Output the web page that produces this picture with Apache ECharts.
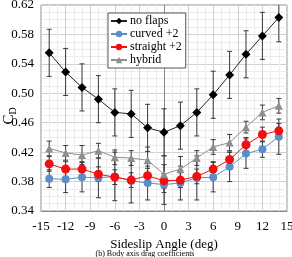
<!DOCTYPE html>
<html><head><meta charset="utf-8">
<script src="https://cdn.jsdelivr.net/npm/echarts@6/dist/echarts.min.js"></script>
<style>html,body{margin:0;padding:0;background:#fff}#c{width:292px;height:257px}</style>
</head><body><div id="c"></div>
<script>
var angles = [-14,-12,-10,-8,-6,-4,-2,0,2,4,6,8,10,12,14];
var noFlaps = [0.555,0.529,0.508,0.492,0.474,0.472,0.453,0.447,0.456,0.474,0.498,0.525,0.553,0.578,0.603];
var noFlapsErr = [0.032,0.032,0.032,0.032,0.032,0.032,0.032,0.032,0.032,0.032,0.032,0.032,0.032,0.032,0.033];
var curved = [0.384,0.383,0.386,0.385,0.387,0.381,0.378,0.376,0.378,0.385,0.386,0.400,0.418,0.424,0.441];
var curvedErr = [0.012,0.018,0.020,0.027,0.033,0.030,0.023,0.027,0.023,0.030,0.020,0.020,0.020,0.011,0.024];
var straight = [0.404,0.397,0.397,0.390,0.386,0.382,0.388,0.381,0.382,0.387,0.397,0.410,0.430,0.444,0.449];
var straightErr = [0.010,0.010,0.010,0.010,0.010,0.010,0.010,0.010,0.010,0.010,0.010,0.010,0.010,0.010,0.010];
var hybrid = [0.425,0.419,0.416,0.422,0.413,0.412,0.409,0.390,0.397,0.412,0.427,0.433,0.454,0.474,0.483];
var hybridErr = [0.010,0.010,0.013,0.010,0.010,0.010,0.018,0.025,0.017,0.010,0.010,0.011,0.008,0.010,0.010];
var seriesNames = ['no flaps','curved +2','straight +2','hybrid'];
var xTicks = [-15,-12,-9,-6,-3,0,3,6,9,12,15];
var yTicks = [0.34,0.38,0.42,0.46,0.50,0.54,0.58,0.62];
var xTitle = 'Sideslip Angle (deg)';
var yTitleMain = 'C', yTitleSub = 'D';
var caption = '(b) Body axis drag coefficients';

var Y_MIN = 0.34, Y_MAX = 0.62;
var SERIF = '"Liberation Serif","Times New Roman",serif';
var ERR_COLOR = '#3a3a3a';

function pairs(vals){ return angles.map(function(a,i){ return [a, vals[i]]; }); }
function errData(vals, errs){ return angles.map(function(a,i){ return [a, vals[i]-errs[i], vals[i]+errs[i]]; }); }

function errSeries(vals, errs){
  return {
    type: 'custom', silent: true, z: 1,
    data: errData(vals, errs),
    encode: { x: 0, y: [1,2] },
    renderItem: function(params, api){
      var x = api.value(0);
      var lo = Math.max(api.value(1), Y_MIN), hi = Math.min(api.value(2), Y_MAX);
      var top = api.coord([x, hi]), bot = api.coord([x, lo]);
      var capHalf = 2.5;
      var st = { stroke: ERR_COLOR, lineWidth: 1 };
      var ch = [{ type:'line', shape:{x1:top[0], y1:top[1], x2:bot[0], y2:bot[1]}, style: st }];
      if (api.value(2) <= Y_MAX) ch.push({ type:'line', shape:{x1:top[0]-capHalf, y1:top[1], x2:top[0]+capHalf, y2:top[1]}, style: st });
      ch.push({ type:'line', shape:{x1:bot[0]-capHalf, y1:bot[1], x2:bot[0]+capHalf, y2:bot[1]}, style: st });
      return { type:'group', children: ch };
    }
  };
}

function lineSeries(name, vals, color, symbol, size, lineColor){
  return {
    name: name, type: 'line', data: pairs(vals), z: 3,
    symbol: symbol, symbolSize: size, showSymbol: true,
    lineStyle: { color: lineColor || color, width: 1 },
    itemStyle: { color: color, borderWidth: 0 },
    emphasis: { disabled: true }, animation: false
  };
}

var chart = echarts.init(document.getElementById('c'), null, { renderer: 'canvas' });
chart.setOption({
  animation: false,
  backgroundColor: '#fff',
  grid: { left: 41, right: 5, top: 5, bottom: 46, show: true, borderColor: '#8a8a8a', borderWidth: 1,
          containLabel: false, outerBoundsMode: 'none' },
  xAxis: {
    type: 'value', min: xTicks[0], max: xTicks[xTicks.length-1], interval: 3,
    axisLine: { show: true, lineStyle: { color: '#8a8a8a' } },
    axisTick: { show: false },
    axisLabel: { color: '#000', fontFamily: SERIF, fontSize: 13, margin: 9 },
    splitLine: { show: true, lineStyle: { color: '#cfcfcf', width: 1 } },
    minorTick: { show: false, splitNumber: 3 },
    minorSplitLine: { show: true, lineStyle: { color: '#ececec', width: 1 } },
    name: xTitle, nameLocation: 'middle', nameGap: 21,
    nameTextStyle: { color: '#000', fontFamily: SERIF, fontSize: 13 }
  },
  yAxis: {
    type: 'value', min: Y_MIN, max: Y_MAX, interval: 0.04,
    axisLine: { show: true, lineStyle: { color: '#8a8a8a' } },
    axisTick: { show: false },
    axisLabel: { color: '#000', fontFamily: SERIF, fontSize: 13, margin: 7,
      formatter: function(v){ return v.toFixed(2); } },
    splitLine: { show: true, lineStyle: { color: '#cfcfcf', width: 1 } },
    minorTick: { show: false, splitNumber: 4 },
    minorSplitLine: { show: true, lineStyle: { color: '#ececec', width: 1 } }
  },
  legend: {
    show: true, orient: 'vertical', left: 108, top: 13,
    backgroundColor: '#fff', borderColor: '#555', borderWidth: 1,
    padding: [2, 4, 2, 2], itemGap: 1, itemWidth: 16, itemHeight: 8,
    textStyle: { color: '#000', fontFamily: SERIF, fontSize: 12, padding: [0,0,0,-2] },
    data: seriesNames
  },
  graphic: [{
    type: 'text', x: 145, y: 250,
    style: { text: caption, fill: '#000', font: '8px ' + SERIF, textAlign: 'center' }
  }, {
    type: 'text', x: 9, y: 116, rotation: Math.PI / 2,
    style: {
      text: '{c|' + yTitleMain + '}{d|' + yTitleSub + '}',
      align: 'center', verticalAlign: 'middle',
      rich: {
        c: { fontSize: 15, fontFamily: SERIF, fill: '#000', lineHeight: 18, verticalAlign: 'middle' },
        d: { fontSize: 10, fontFamily: SERIF, fill: '#000', lineHeight: 10, verticalAlign: 'bottom' }
      }
    }
  }],
  series: [
    errSeries(noFlaps, noFlapsErr),
    errSeries(hybrid, hybridErr),
    errSeries(straight, straightErr),
    errSeries(curved, curvedErr),
    lineSeries(seriesNames[0], noFlaps, '#000', 'diamond', 9, '#222'),
    lineSeries(seriesNames[1], curved, '#5b8ec8', 'circle', 8),
    lineSeries(seriesNames[2], straight, '#f01010', 'circle', 9),
    lineSeries(seriesNames[3], hybrid, '#8e8e8e', 'triangle', 8)
  ]
});
</script></body></html>
